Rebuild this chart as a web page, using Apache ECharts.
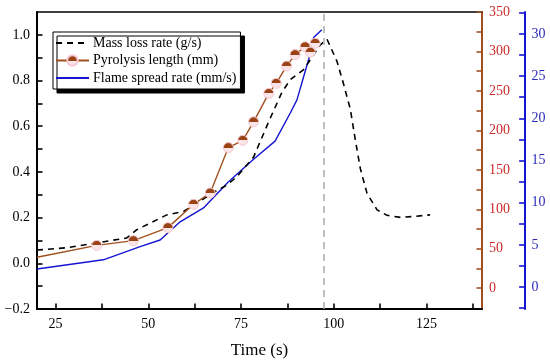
<!DOCTYPE html>
<html>
<head>
<meta charset="utf-8">
<script src="https://cdn.jsdelivr.net/npm/echarts@6/dist/echarts.min.js"></script>
<style>html,body{margin:0;padding:0;background:#fff}#c{width:550px;height:364px}</style>
</head>
<body>
<div id="c"></div>
<script>
// Mass loss rate (g/s) - left axis
const timeMass = [20, 28.0, 44.2, 46.9, 55.0, 59.5, 63.1, 68.0, 71.2, 73.9, 78.4, 82.4, 86.0, 88.3, 91.9, 96.4, 98.2, 100.9, 102.7, 104.5, 105.8, 107.2, 109.0, 111.7, 114.4, 118.0, 121.5, 126.0];
const massLoss = [0.058, 0.068, 0.111, 0.147, 0.212, 0.227, 0.263, 0.314, 0.342, 0.379, 0.465, 0.617, 0.747, 0.804, 0.848, 0.956, 0.981, 0.884, 0.783, 0.674, 0.544, 0.414, 0.306, 0.234, 0.210, 0.201, 0.205, 0.212];
// Pyrolysis length (mm) - red axis
const timePyro = [20, 36.1, 46.0, 55.3, 62.2, 66.7, 71.6, 75.5, 78.4, 82.5, 84.5, 87.3, 89.6, 92.3, 93.7, 95.0];
const pyroLen = [39.3, 54.3, 60.3, 76.8, 106.3, 120.7, 178.2, 187.4, 210.8, 246.8, 259.6, 281.5, 296.0, 305.9, 299.1, 310.4];
// Flame spread rate (mm/s) - blue axis
const timeFlame = [20, 37.9, 47.8, 53.2, 58.6, 64.9, 71.5, 78.4, 84.2, 88.3, 90.1, 91.9, 93.7, 94.6, 96.8];
const flameRate = [2.14, 3.23, 4.80, 5.58, 7.73, 9.38, 12.42, 15.15, 17.30, 20.63, 22.18, 24.92, 27.66, 29.57, 30.51];
// reference time line
const peakTime = [97.3];
// tick labels
const xTicks = [25, 50, 75, 100, 125];
const xMinor = [37.5, 62.5, 87.5, 112.5, 137.5];
const leftTicks = [-0.2, 0, 0.2, 0.4, 0.6, 0.8, 1.0];
const leftMinor = [-0.1, 0.1, 0.3, 0.5, 0.7, 0.9];
const redTicks = [0, 50, 100, 150, 200, 250, 300, 350];
const redMinor = [25, 75, 125, 175, 225, 275, 325];
const blueTicks = [0, 5, 10, 15, 20, 25, 30];
const blueMinor = [-2.5, 2.5, 7.5, 12.5, 17.5, 22.5, 27.5, 32.5];
const names = ['Mass loss rate (g/s)', 'Pyrolysis length (mm)', 'Flame spread rate (mm/s)'];

const FF = '"Liberation Serif", "Times New Roman", serif';
const BROWN = '#a0501e';
const RED = '#cc2b2b';
const BLUE = '#1414d2';
const BLUE_T = '#2b2bb8';

function yAx(min, max, ticks, minor, lineColor, labelColor, position, offset, fmt) {
  return {
    type: 'value', min: min, max: max, position: position, offset: offset || 0,
    axisLine: {show: true, onZero: false, lineStyle: {color: lineColor, width: 2}},
    axisTick: {show: true, inside: true, length: 5.5, customValues: ticks.concat(minor), lineStyle: {color: lineColor, width: 1.6}},
    axisLabel: {show: true, customValues: ticks, color: labelColor, fontSize: 14, fontFamily: FF, margin: 7, formatter: fmt},
    splitLine: {show: false}
  };
}

const chart = echarts.init(document.getElementById('c'), null, {renderer: 'canvas'});
const pinkMarker = new echarts.graphic.LinearGradient(0, 0, 0, 1, [
  {offset: 0, color: '#9a4416'}, {offset: 0.5, color: '#9a4416'},
  {offset: 0.5, color: '#fbe4e8'}, {offset: 1, color: '#fbe4e8'}
]);

const pyroData = timePyro.map((t, i) => i === 0 ? {value: [t, pyroLen[i]], symbol: 'none'} : [t, pyroLen[i]]);

chart.setOption({
  animation: false,
  backgroundColor: '#fff',
  grid: {left: 37, right: 68, top: 12, bottom: 52},
  legend: {
    data: [
      {name: names[0], itemStyle: {opacity: 0}},
      {name: names[1]},
      {name: names[2], itemStyle: {opacity: 0}}
    ],
    orient: 'vertical', left: 53, top: 32,
    backgroundColor: '#fff', borderColor: '#000', borderWidth: 1,
    shadowColor: '#000', shadowBlur: 0, shadowOffsetX: 4, shadowOffsetY: 4,
    padding: [4, 4, 4, 2], itemGap: 3.5, itemWidth: 33, itemHeight: 13,
    textStyle: {fontSize: 14, fontFamily: FF, color: '#000', padding: [0, 0, 0, -1]}
  },
  xAxis: [
    {
      type: 'value', min: 20, max: 140, position: 'bottom',
      axisLine: {onZero: false, lineStyle: {color: '#000', width: 2}},
      axisTick: {inside: true, length: 5.5, customValues: xTicks.concat(xMinor), lineStyle: {color: '#000', width: 1.6}},
      axisLabel: {customValues: xTicks, fontSize: 14, fontFamily: FF, color: '#000', margin: 8},
      splitLine: {show: false},
      name: 'Time (s)', nameLocation: 'middle', nameGap: 33,
      nameTextStyle: {fontSize: 17, fontFamily: FF, color: '#000'}
    },
    {
      type: 'value', min: 20, max: 140, position: 'top',
      axisLine: {onZero: false, lineStyle: {color: '#000', width: 1.5}},
      axisTick: {show: false}, axisLabel: {show: false}, splitLine: {show: false}
    }
  ],
  yAxis: [
    yAx(-0.2, 1.1, leftTicks, leftMinor, '#000', '#000', 'left', 0, v => v.toFixed(1).replace('-', '\u2212')),
    yAx(-26.3, 350, redTicks, redMinor, BROWN, RED, 'right', 0),
    yAx(-2.6, 32.6, blueTicks, blueMinor, BLUE, BLUE_T, 'right', 42.6)
  ],
  series: [
    {
      name: names[0], type: 'line', xAxisIndex: 0, yAxisIndex: 0,
      data: timeMass.map((t, i) => [t, massLoss[i]]),
      symbol: 'none', showSymbol: false, z: 3,
      lineStyle: {color: '#000', width: 1.6, type: [6, 5]},
      itemStyle: {color: '#000'},
      markLine: {
        silent: true, symbol: ['none', 'none'], label: {show: false},
        lineStyle: {color: '#aaaaaa', width: 1.5, type: [7, 5]},
        data: peakTime.map(v => ({xAxis: v}))
      }
    },
    {
      name: names[1], type: 'line', xAxisIndex: 0, yAxisIndex: 1,
      data: pyroData,
      symbol: 'circle', symbolSize: 10, showSymbol: true, z: 4,
      lineStyle: {color: BROWN, width: 1.4},
      itemStyle: {color: pinkMarker, borderColor: '#f7c9d2', borderWidth: 1}
    },
    {
      name: names[2], type: 'line', xAxisIndex: 0, yAxisIndex: 2,
      data: timeFlame.map((t, i) => [t, flameRate[i]]),
      symbol: 'none', showSymbol: false, z: 2,
      lineStyle: {color: BLUE, width: 1.4},
      itemStyle: {color: BLUE}
    }
  ]
});
</script>
</body>
</html>
